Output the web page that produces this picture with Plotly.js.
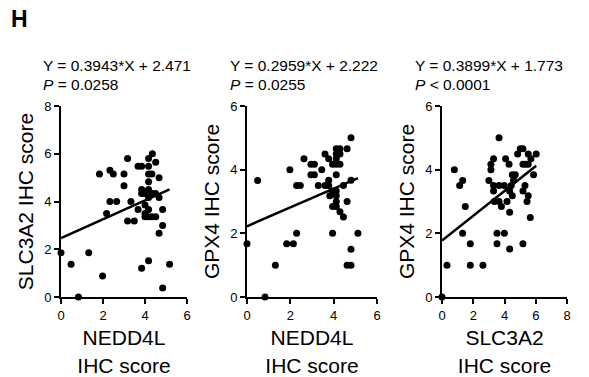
<!DOCTYPE html>
<html>
<head>
<meta charset="utf-8">
<script src="https://cdn.plot.ly/plotly-3.0.1.min.js"></script>
<style>html,body{margin:0;padding:0;background:#fff;}#chart{width:589px;height:377px;}</style>
</head>
<body>
<div id="chart"></div>
<script>
// Panel 1: NEDD4L vs SLC3A2
const p1X = [0, 0.48, 0.83, 1.32, 1.98, 1.83, 2.33, 2.49, 2.33, 2.65, 2.17, 3.17, 3.0, 3.0, 3.33, 3.17, 3.49, 3.67, 3.67, 3.84, 3.84, 3.84, 4.0, 4.0, 4.0, 4.17, 4.35, 4.51, 4.17, 4.17, 4.33, 4.17, 4.17, 4.33, 4.0, 4.17, 4.67, 4.67, 4.84, 4.84, 4.67, 4.17, 4.84, 5.17, 4.17, 4.33, 4.51, 4.17, 3.84, 4.5];
const p1Y = [1.85, 1.37, 0, 1.85, 0.88, 5.15, 5.31, 5.15, 4.0, 4.0, 3.5, 5.8, 5.15, 4.66, 4.0, 3.18, 3.18, 3.67, 5.48, 5.48, 4.5, 1.2, 3.5, 3.85, 3.36, 5.8, 6.0, 5.64, 5.48, 5.15, 5.15, 4.83, 4.5, 4.33, 4.33, 4.17, 5.0, 4.17, 3.67, 3.0, 2.67, 1.52, 0.38, 1.37, 3.36, 3.36, 3.36, 3.67, 4.33, 4.33];
const p1Slope = 0.3943, p1Intercept = 2.471, p1P = "<i>P</i> = 0.0258";

// Panel 2: NEDD4L vs GPX4
const p2X = [0, 0.49, 0.83, 1.31, 1.83, 2.14, 2.29, 1.98, 2.29, 2.46, 2.63, 2.95, 3.11, 2.95, 3.11, 3.45, 3.29, 3.6, 3.6, 3.77, 3.77, 3.77, 3.82, 3.95, 3.95, 3.95, 3.95, 4.12, 4.29, 4.12, 4.29, 4.12, 4.12, 4.29, 4.12, 4.12, 4.12, 4.12, 4.12, 4.29, 4.45, 4.45, 4.62, 4.62, 4.8, 4.8, 4.8, 4.62, 4.8, 5.12];
const p2Y = [1.67, 3.66, 0, 1.0, 1.67, 1.67, 2.0, 4.0, 3.5, 3.5, 4.34, 4.17, 4.17, 3.84, 3.84, 4.0, 3.5, 4.49, 3.5, 4.34, 3.67, 3.5, 3.18, 4.17, 2.0, 3.33, 2.84, 4.66, 4.66, 4.49, 4.49, 4.34, 4.17, 4.17, 3.84, 3.33, 3.18, 3.0, 2.84, 2.68, 2.51, 3.5, 4.66, 3.0, 5.0, 3.67, 1.5, 1.0, 1.0, 2.0];
const p2Slope = 0.2959, p2Intercept = 2.222, p2P = "<i>P</i> = 0.0255";

// Panel 3: SLC3A2 vs GPX4
const p3X = [0, 0.32, 0.79, 1.13, 1.32, 1.32, 1.49, 1.81, 1.81, 2.62, 3.0, 3.13, 3.13, 3.3, 3.3, 3.3, 3.35, 3.52, 3.52, 3.65, 3.65, 3.65, 3.8, 3.99, 3.99, 4.07, 4.16, 4.29, 4.33, 4.33, 4.33, 4.43, 4.5, 4.5, 4.58, 4.69, 4.84, 5.01, 5.18, 5.18, 5.18, 5.31, 5.18, 5.44, 5.35, 5.52, 5.52, 5.52, 5.65, 5.69, 5.86, 6.03];
const p3Y = [0, 1.0, 4.0, 3.5, 3.66, 2.0, 2.84, 1.67, 1.0, 1.0, 3.66, 4.0, 4.17, 4.34, 3.5, 3.33, 3.0, 1.67, 2.0, 3.0, 5.0, 3.5, 2.84, 2.0, 3.5, 4.34, 3.0, 4.17, 2.66, 1.51, 3.33, 3.5, 3.84, 3.18, 3.67, 3.84, 4.49, 4.66, 4.66, 1.67, 4.17, 3.5, 3.33, 3.0, 4.17, 4.17, 4.49, 3.18, 2.5, 4.34, 3.84, 4.49];
const p3Slope = 0.3899, p3Intercept = 1.773, p3P = "<i>P</i> &lt; 0.0001";

const xTitles = ["NEDD4L<br>IHC score", "NEDD4L<br>IHC score", "SLC3A2<br>IHC score"];
const yTitles = ["SLC3A2 IHC score", "GPX4 IHC score", "GPX4 IHC score"];
const xRanges = [[0, 6], [0, 6], [0, 8]];
const yRanges = [[0, 8], [0, 6], [0, 6]];

const panels = [
  {x: p1X, y: p1Y, m: p1Slope, b: p1Intercept, p: p1P},
  {x: p2X, y: p2Y, m: p2Slope, b: p2Intercept, p: p2P},
  {x: p3X, y: p3Y, m: p3Slope, b: p3Intercept, p: p3P}
];

const W = 589, H = 377;
const xDom = [[61 / W, 187 / W], [247 / W, 377 / W], [442 / W, 567 / W]];
const yDom = [1 - 297 / H, 1 - 106 / H];
const eqLeft = [41 / W, 228 / W, 413 / W];
const FONT = "Arial, 'Liberation Sans', sans-serif";

const traces = [];
const annotations = [];
const layout = {
  width: W, height: H,
  margin: {l: 0, r: 0, t: 0, b: 0},
  paper_bgcolor: "#fff", plot_bgcolor: "#fff",
  showlegend: false,
  font: {family: FONT, color: "#000"},
  annotations: annotations
};

panels.forEach((pn, i) => {
  const sfx = i === 0 ? "" : String(i + 1);
  const xa = "x" + sfx, ya = "y" + sfx;
  traces.push({
    type: "scatter", mode: "markers", x: pn.x, y: pn.y, xaxis: xa, yaxis: ya,
    marker: {color: "#000", size: 7}, cliponaxis: false, hoverinfo: "skip"
  });
  const xMax = Math.max.apply(null, pn.x);
  const lx = [0, xMax];
  traces.push({
    type: "scatter", mode: "lines", x: lx, y: lx.map(v => pn.m * v + pn.b),
    xaxis: xa, yaxis: ya, line: {color: "#000", width: 2.5}, cliponaxis: false, hoverinfo: "skip"
  });
  layout["xaxis" + sfx] = {
    domain: xDom[i], anchor: ya, range: xRanges[i], dtick: 2, tick0: 0,
    showline: true, linecolor: "#000", linewidth: 2, ticks: "outside", ticklen: 5, tickwidth: 2, tickcolor: "#000",
    showgrid: false, zeroline: false, tickfont: {size: 13, family: FONT, color: "#000"},
    title: {text: xTitles[i], font: {size: 21, family: FONT, color: "#000"}, standoff: 9}
  };
  layout["yaxis" + sfx] = {
    domain: yDom, anchor: xa, range: yRanges[i], dtick: 2, tick0: 0,
    showline: true, linecolor: "#000", linewidth: 2, ticks: "outside", ticklen: 5, tickwidth: 2, tickcolor: "#000",
    showgrid: false, zeroline: false, tickfont: {size: 13, family: FONT, color: "#000"},
    title: {text: yTitles[i], font: {size: 21, family: FONT, color: "#000"}, standoff: 5}
  };
  annotations.push({
    xref: "paper", yref: "paper", x: eqLeft[i], y: 1 - 65 / H, xanchor: "left", yanchor: "middle",
    text: "Y = " + pn.m.toFixed(4) + "*X + " + pn.b.toFixed(3), showarrow: false,
    font: {size: 15.5, family: FONT, color: "#000"}
  });
  annotations.push({
    xref: "paper", yref: "paper", x: eqLeft[i], y: 1 - 85 / H, xanchor: "left", yanchor: "middle",
    text: pn.p, showarrow: false, font: {size: 15.5, family: FONT, color: "#000"}
  });
});

annotations.push({
  xref: "paper", yref: "paper", x: 9 / W, y: 1 - 19 / H, xanchor: "left", yanchor: "middle",
  text: "<b>H</b>", showarrow: false, font: {size: 23, family: FONT, color: "#000"}
});

Plotly.newPlot("chart", traces, layout, {staticPlot: true, displayModeBar: false});
</script>
</body>
</html>
